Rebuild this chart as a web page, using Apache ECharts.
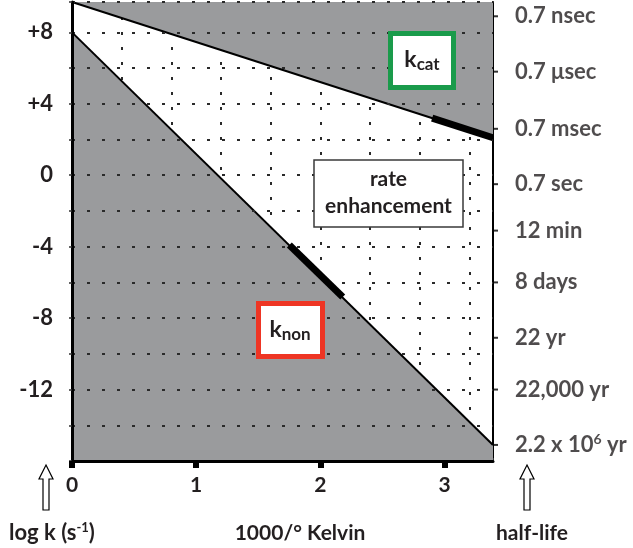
<!DOCTYPE html>
<html>
<head>
<meta charset="utf-8">
<script src="https://cdn.jsdelivr.net/npm/echarts@6/dist/echarts.min.js"></script>
<style>html,body{margin:0;padding:0;background:#fff}#c{width:633px;height:548px}</style>
</head>
<body>
<div id="c"></div>
<script>
// ---- data ----
const xMin = 0, xMax = 3.39;
const yMin = -16, yMax = 9.7;
const xTickValues = [0, 1, 2, 3];
const leftTickLabels = [8, 4, 0, -4, -8, -12];
const kcatLine = [[0, 9.7], [3.39, 2.1]];
const knonLine = [[0, 8], [3.39, -15.1]];
const kcatThick = [[2.9, 3.2], [3.39, 2.1]];
const knonThick = [[1.75, -3.9], [2.18, -6.82]];
const halfLifeValues = [8.9, 5.8, 2.6, -0.5, -3.1, -6.0, -9.1, -12.0, -15.1];
const halfLifeLabels = ['0.7 nsec', '0.7 \u03bcsec', '0.7 msec', '0.7 sec', '12 min', '8 days', '22 yr', '22,000 yr', '2.2 x 10{sup|6} yr'];

const FONT = 'Lato, "Open Sans", sans-serif';
const W = 'bold';
const INK = '#231f20';
const GRAY = '#9a9b9d';
const DOT = { color: '#2a2a2a', width: 2, type: [3, 12] };

const chart = echarts.init(document.getElementById('c'), null, { renderer: 'canvas' });

function arrow(cx) {
  const top = 465, headH = 14, bot = 510, hw = 7, sw = 3;
  return {
    type: 'polygon',
    shape: { points: [[cx, top], [cx + hw, top + headH], [cx + sw, top + headH], [cx + sw, bot], [cx - sw, bot], [cx - sw, top + headH], [cx - hw, top + headH]] },
    style: { fill: '#fff', stroke: '#000', lineWidth: 1.2 }
  };
}

const option = {
  backgroundColor: '#fff',
  animation: false,
  grid: { left: 72, right: 140, top: 2, bottom: 87, containLabel: false },
  xAxis: [
    {
      type: 'value', min: xMin, max: xMax, interval: 1, position: 'bottom',
      axisLine: { show: true, onZero: false, lineStyle: { color: '#000', width: 3 } },
      axisTick: { show: true, length: 7, lineStyle: { color: '#000', width: 6 } },
      axisLabel: {
        show: true, margin: 14, fontSize: 21, fontWeight: W, fontFamily: FONT, color: INK,
        formatter: v => (xTickValues.includes(Math.round(v * 1000) / 1000) ? String(Math.round(v)) : ''),
        showMaxLabel: false
      },
      splitLine: { show: false }, z: 5
    },
    {
      type: 'value', min: xMin, max: xMax, interval: 0.4, position: 'bottom',
      axisLine: { show: false, onZero: false },
      axisTick: { show: true, inside: true, length: 3, lineStyle: { color: '#333', width: 1 } },
      minorTick: { show: true, splitNumber: 4, length: 3, lineStyle: { color: '#333', width: 1 } },
      axisLabel: { show: false },
      splitLine: { show: true, lineStyle: DOT }
    },
    {
      type: 'value', min: xMin, max: xMax, position: 'top',
      axisLine: { show: true, onZero: false, lineStyle: { color: '#444', width: 1 } },
      axisTick: { show: false }, axisLabel: { show: false }, splitLine: { show: false }
    }
  ],
  yAxis: [
    {
      type: 'value', min: yMin, max: yMax, interval: 2, position: 'left',
      axisLine: { show: true, onZero: false, lineStyle: { color: '#000', width: 3 } },
      axisTick: { show: true, length: 3, lineStyle: { color: '#333', width: 1.5 } },
      axisLabel: {
        show: true, margin: 19, fontSize: 22, fontWeight: W, fontFamily: FONT, color: INK,
        formatter: v => {
          const r = Math.round(v);
          if (!leftTickLabels.includes(r) || Math.abs(v - r) > 1e-6) return '';
          return r > 0 ? '+' + r : String(r);
        }
      },
      splitLine: { show: true, lineStyle: DOT }, z: 5
    },
    {
      type: 'value', min: yMin, max: yMax, position: 'right',
      axisLine: { show: true, onZero: false, lineStyle: { color: '#000', width: 2 } },
      axisTick: { show: false }, axisLabel: { show: false }, splitLine: { show: false }
    }
  ],
  series: [
    {
      type: 'line', name: 'kcat', data: kcatLine, xAxisIndex: 0, yAxisIndex: 0,
      symbol: 'none', lineStyle: { color: '#000', width: 2 },
      areaStyle: { origin: 'end', color: GRAY, opacity: 1 }, z: 1
    },
    {
      type: 'line', name: 'knon', data: knonLine, xAxisIndex: 0, yAxisIndex: 0,
      symbol: 'none', lineStyle: { color: '#000', width: 2 },
      areaStyle: { origin: 'start', color: GRAY, opacity: 1 }, z: 1
    },
    {
      type: 'line', data: kcatThick, symbol: 'none', lineStyle: { color: '#000', width: 7, cap: 'butt' }, z: 6
    },
    {
      type: 'line', data: knonThick, symbol: 'none', lineStyle: { color: '#000', width: 7, cap: 'butt' }, z: 6
    },
    {
      type: 'scatter', clip: false, z: 7,
      data: halfLifeValues.map((v, i) => ({ value: [xMax, v], label: { formatter: halfLifeLabels[i] } })),
      symbol: 'rect', symbolSize: [4, 2], symbolOffset: [3, 0], itemStyle: { color: '#000' },
      label: {
        show: true, position: 'right', distance: 17, fontSize: 22, fontWeight: W, fontFamily: FONT, color: INK,
        rich: { sup: { fontSize: 14, fontWeight: W, fontFamily: FONT, color: INK, verticalAlign: 'top', padding: [0, 0, 10, 0] } }
      },
      silent: true
    }
  ],
  graphic: [
    { type: 'rect', shape: { x: 390.5, y: 33.5, width: 63, height: 54 }, style: { fill: '#fff', stroke: '#1a9b4b', lineWidth: 5 }, z: 20 },
    {
      type: 'text', x: 422, y: 60, z: 21,
      style: {
        text: 'k{s|cat}', align: 'center', verticalAlign: 'middle', fontSize: 23, fontWeight: W, fontFamily: FONT, fill: INK,
        rich: { s: { fontSize: 17, fontWeight: W, fontFamily: FONT, fill: INK, padding: [10, 0, 0, 0] } }
      }
    },
    { type: 'rect', shape: { x: 258.5, y: 303.5, width: 64, height: 53 }, style: { fill: '#fff', stroke: '#ee3524', lineWidth: 5 }, z: 20 },
    {
      type: 'text', x: 290, y: 330, z: 21,
      style: {
        text: 'k{s|non}', align: 'center', verticalAlign: 'middle', fontSize: 23, fontWeight: W, fontFamily: FONT, fill: INK,
        rich: { s: { fontSize: 17, fontWeight: W, fontFamily: FONT, fill: INK, padding: [10, 0, 0, 0] } }
      }
    },
    { type: 'rect', shape: { x: 314, y: 160, width: 149, height: 67 }, style: { fill: '#fff', stroke: '#3a3a3a', lineWidth: 1.5 }, z: 20 },
    {
      type: 'text', x: 388.5, y: 193, z: 21,
      style: { text: 'rate\nenhancement', align: 'center', verticalAlign: 'middle', fontSize: 21, fontWeight: W, fontFamily: FONT, fill: INK, lineHeight: 27 }
    },
    Object.assign(arrow(46), { z: 20 }),
    Object.assign(arrow(527), { z: 20 }),
    {
      type: 'text', x: 52, y: 533, z: 21,
      style: {
        text: 'log k (s{sup|-1})', align: 'center', verticalAlign: 'middle', fontSize: 22, fontWeight: W, fontFamily: FONT, fill: INK,
        rich: { sup: { fontSize: 13, fontWeight: W, fontFamily: FONT, fill: INK, padding: [0, 0, 11, 0] } }
      }
    },
    { type: 'text', x: 300, y: 533, z: 21, style: { text: '1000/\u00b0 Kelvin', align: 'center', verticalAlign: 'middle', fontSize: 21, fontWeight: W, fontFamily: FONT, fill: INK } },
    { type: 'text', x: 532, y: 533, z: 21, style: { text: 'half-life', align: 'center', verticalAlign: 'middle', fontSize: 21, fontWeight: W, fontFamily: FONT, fill: INK } }
  ]
};
chart.setOption(option);
</script>
</body>
</html>
